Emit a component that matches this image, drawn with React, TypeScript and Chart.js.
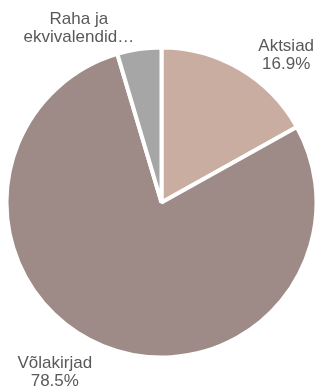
import React, { useEffect, useRef } from "react";
import { Chart, registerables } from "chart.js";

Chart.register(...registerables);

const categories = ["Aktsiad", "Võlakirjad", "Raha ja ekvivalendid"];
const shares = [16.9, 78.5, 4.6];
const labelLines = [["Aktsiad"], ["Võlakirjad"], ["Raha ja", "ekvivalendid…"]];
const showPercent = [true, true, false];
const colors = ["#C9ADA1", "#9E8B88", "#A6A6A6"];

const labelOffsets = [
  [31, 12],
  [-37, -2],
  [-56, 9],
];

const labelPlugin = {
  id: "pieLabels",
  afterDraw(chart: any) {
    const ctx = chart.ctx;
    const meta = chart.getDatasetMeta(0);
    ctx.save();
    ctx.font = "17px 'Liberation Sans', Arial, sans-serif";
    ctx.fillStyle = "#595959";
    ctx.textAlign = "center";
    ctx.textBaseline = "middle";
    const lineH = 18;
    meta.data.forEach((arc: any, i: number) => {
      const { x, y, startAngle, endAngle, outerRadius } = arc.getProps(
        ["x", "y", "startAngle", "endAngle", "outerRadius"],
        true
      );
      const mid = (startAngle + endAngle) / 2;
      const r = outerRadius + 30;
      const cx = x + Math.cos(mid) * r + labelOffsets[i][0];
      const cy = y + Math.sin(mid) * r + labelOffsets[i][1];
      const lines = [...labelLines[i]];
      if (showPercent[i]) lines.push(shares[i].toFixed(1) + "%");
      const top = cy - ((lines.length - 1) * lineH) / 2;
      lines.forEach((t, k) => ctx.fillText(t, cx, top + k * lineH));
    });
    ctx.restore();
  },
};

export default function App() {
  const ref = useRef<HTMLCanvasElement>(null);
  useEffect(() => {
    if (!ref.current) return;
    const chart = new Chart(ref.current, {
      type: "pie",
      data: {
        labels: categories,
        datasets: [
          {
            data: shares,
            backgroundColor: colors,
            borderColor: "#FFFFFF",
            borderWidth: 4,
            radius: 155,
          } as any,
        ],
      },
      options: {
        animation: false,
        responsive: false,
        layout: { padding: { left: 8, right: 0, top: 15, bottom: 0 } },
        plugins: {
          legend: { display: false },
          tooltip: { enabled: false },
        },
      },
      plugins: [labelPlugin],
    });
    return () => chart.destroy();
  }, []);
  return (
    <div style={{ position: "absolute", left: 0, top: 0, width: 315, height: 390 }}>
      <canvas ref={ref} width={315} height={390} />
    </div>
  );
}
